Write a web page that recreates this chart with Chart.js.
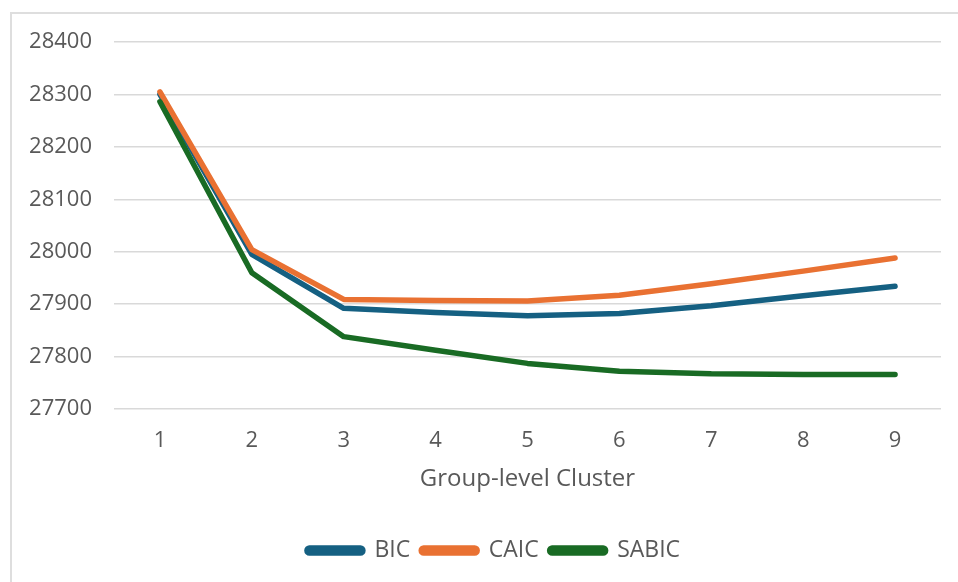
<!DOCTYPE html>
<html>
<head>
<meta charset="utf-8">
<script src="https://cdn.jsdelivr.net/npm/chart.js@4/dist/chart.umd.min.js"></script>
<style>
  html, body { margin: 0; padding: 0; background: #ffffff; overflow: hidden; }
  #wrap { position: relative; width: 958px; height: 582px; }
  #frame { position: absolute; left: 10px; top: 12px; width: 1000px; height: 1000px;
           border: 2px solid #dedede; box-sizing: border-box; }
  #chart { position: absolute; left: 0; top: 0; }
</style>
</head>
<body>
<div id="wrap">
  <div id="frame"></div>
  <canvas id="chart" width="958" height="582"></canvas>
</div>
<script>
// Information criteria by number of group-level clusters
const clusters = ['1', '2', '3', '4', '5', '6', '7', '8', '9'];
const bic   = [28300, 27995, 27892, 27884, 27878, 27882, 27897, 27916, 27934];
const caic  = [28305, 28004, 27909, 27907, 27906, 27917, 27939, 27963, 27988];
const sabic = [28286, 27960, 27838, 27812, 27787, 27772, 27767, 27766, 27766];

const yMin = 27700, yMax = 28400, yStep = 100;

const FONT = 'Open Sans';
const TEXT = '#595959';

function series(label, data, color, order) {
  return {
    label, data, order,
    borderColor: color,
    backgroundColor: color,
    borderWidth: 5.5,
    borderCapStyle: 'round',
    borderJoinStyle: 'round',
    pointRadius: 0,
    pointHoverRadius: 0,
    tension: 0,
    fill: false
  };
}

// nudge the legend so it sits centred under the framed area
const legendShift = {
  id: 'legendShift',
  afterLayout(chart) {
    const lg = chart.legend;
    if (lg) { lg.left += 23; lg.right += 23; }
  }
};

new Chart(document.getElementById('chart'), {
  type: 'line',
  data: {
    labels: clusters,
    datasets: [
      series('BIC', bic, '#156082', 2),
      series('CAIC', caic, '#E97132', 1),
      series('SABIC', sabic, '#196B24', 0)
    ]
  },
  options: {
    responsive: false,
    animation: false,
    events: [],
    layout: { padding: { left: 0, right: 17, top: 42, bottom: 10 } },
    plugins: {
      tooltip: { enabled: false },
      legend: {
        position: 'bottom',
        labels: {
          sort: (a, b) => a.datasetIndex - b.datasetIndex,
          boxWidth: 56,
          boxHeight: 5,
          useBorderRadius: true,
          borderRadius: 2.5,
          padding: 11,
          color: TEXT,
          font: { family: FONT, size: 23 }
        }
      }
    },
    scales: {
      x: {
        offset: true,
        afterFit(scale) { scale.height = 119; },
        grid: { display: false },
        border: { display: false },
        ticks: { color: TEXT, padding: 11, font: { family: FONT, size: 22 } },
        title: {
          display: true,
          text: 'Group-level Cluster',
          color: TEXT,
          font: { family: FONT, size: 24 },
          padding: { top: 0, bottom: 34 }
        }
      },
      y: {
        min: yMin,
        max: yMax,
        afterFit(scale) { scale.width = 114; },
        grid: { color: '#d9d9d9', lineWidth: 1.5, drawTicks: false },
        border: { display: false },
        ticks: {
          stepSize: yStep,
          padding: 22,
          color: TEXT,
          font: { family: FONT, size: 22 },
          callback: v => String(v)
        }
      }
    }
  },
  plugins: [legendShift]
});
</script>
</body>
</html>
